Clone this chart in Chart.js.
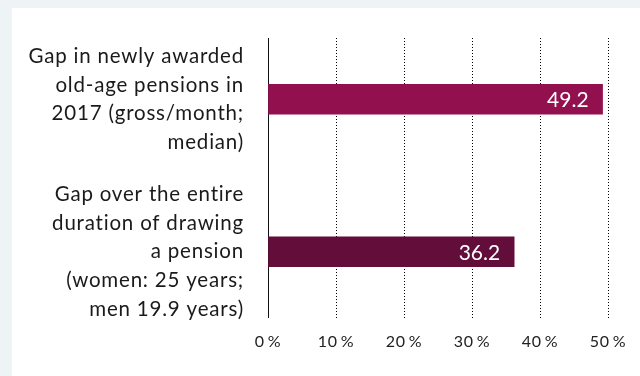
<!DOCTYPE html>
<html>
<head>
<meta charset="utf-8">
<script src="https://cdn.jsdelivr.net/npm/chart.js@4"></script>
<style>
  html, body { margin: 0; padding: 0; background: #eef3f6; }
  #wrap { position: relative; width: 640px; height: 376px; }
</style>
</head>
<body>
<div id="wrap"><canvas id="c" width="640" height="376"></canvas></div>
<script>
// Gender pension gap, in percent
const categories = [
  ['Gap in newly awarded', 'old-age pensions in', '2017 (gross/month;', 'median)'],
  ['Gap over the entire', 'duration of drawing', 'a pension', '(women: 25 years;', 'men 19.9 years)']
];
const gapValues = [49.2, 36.2];
const barColors = ['#93104f', '#630d3b'];
const xTicks = [0, 10, 20, 30, 40, 50];

const FONT = 'Lato, "Open Sans", sans-serif';

// Page background and white panel; axis text gets a touch of tracking
const panelBg = {
  id: 'panelBg',
  beforeDraw(chart) {
    const ctx = chart.ctx;
    ctx.save();
    ctx.fillStyle = '#eef3f6';
    ctx.fillRect(0, 0, chart.width, chart.height);
    ctx.fillStyle = '#ffffff';
    ctx.fillRect(12, 8, chart.width - 12, chart.height - 8);
    ctx.restore();
    // keep grid and axis line within the plotted band
    const a = chart.chartArea;
    const x0 = a.left - 10;
    ctx.save();
    ctx.letterSpacing = '0.8px';
    ctx.beginPath();
    ctx.rect(0, 0, chart.width, chart.height);
    ctx.rect(x0, a.top - 2, chart.width, 17);
    ctx.rect(x0, a.bottom - 10, chart.width, 12);
    ctx.clip('evenodd');
  },
  beforeDatasetsDraw(chart) {
    chart.ctx.restore();
  }
};

// Value labels inside the bar ends
const valueLabels = {
  id: 'valueLabels',
  afterDatasetsDraw(chart) {
    const ctx = chart.ctx;
    const meta = chart.getDatasetMeta(0);
    ctx.save();
    ctx.fillStyle = '#ffffff';
    ctx.font = '21px ' + FONT;
    ctx.textAlign = 'right';
    ctx.textBaseline = 'middle';
    meta.data.forEach((bar, i) => {
      ctx.fillText(String(gapValues[i]), bar.x - 14, bar.y + 1);
    });
    ctx.restore();
  }
};

new Chart(document.getElementById('c'), {
  type: 'bar',
  data: {
    labels: categories,
    datasets: [{
      data: gapValues,
      backgroundColor: barColors,
      barThickness: 30
    }]
  },
  options: {
    indexAxis: 'y',
    responsive: false,
    animation: false,
    events: [],
    layout: { padding: { top: 23, right: 32, bottom: 0, left: 0 } },
    plugins: { legend: { display: false }, tooltip: { enabled: false } },
    scales: {
      x: {
        min: 0,
        max: 50,
        afterBuildTicks(scale) { scale.ticks = xTicks.map(v => ({ value: v })); },
        afterFit(scale) {
          scale.height = 48;
          scale.paddingLeft = 0;
          scale.paddingRight = 0;
        },
        grid: {
          drawTicks: false,
          lineWidth: 1,
          color: c => (c.tick && c.tick.value === 0) ? 'rgba(0,0,0,0)' : '#000000'
        },
        border: { display: false, dash: [1, 2] },
        ticks: {
          padding: 4,
          color: '#222222',
          font: { family: FONT, size: 16 },
          callback: v => v + '\u2009%'
        }
      },
      y: {
        afterFit(scale) {
          scale.width = 268;
          scale.paddingTop = 0;
          scale.paddingBottom = 0;
        },
        grid: { display: false, drawTicks: false },
        border: { display: true, color: '#111111', width: 1 },
        ticks: {
          padding: 24,
          color: '#1a1a1a',
          font: { family: FONT, size: 20.5, lineHeight: 1.4 }
        }
      }
    }
  },
  plugins: [panelBg, valueLabels]
});
</script>
</body>
</html>
